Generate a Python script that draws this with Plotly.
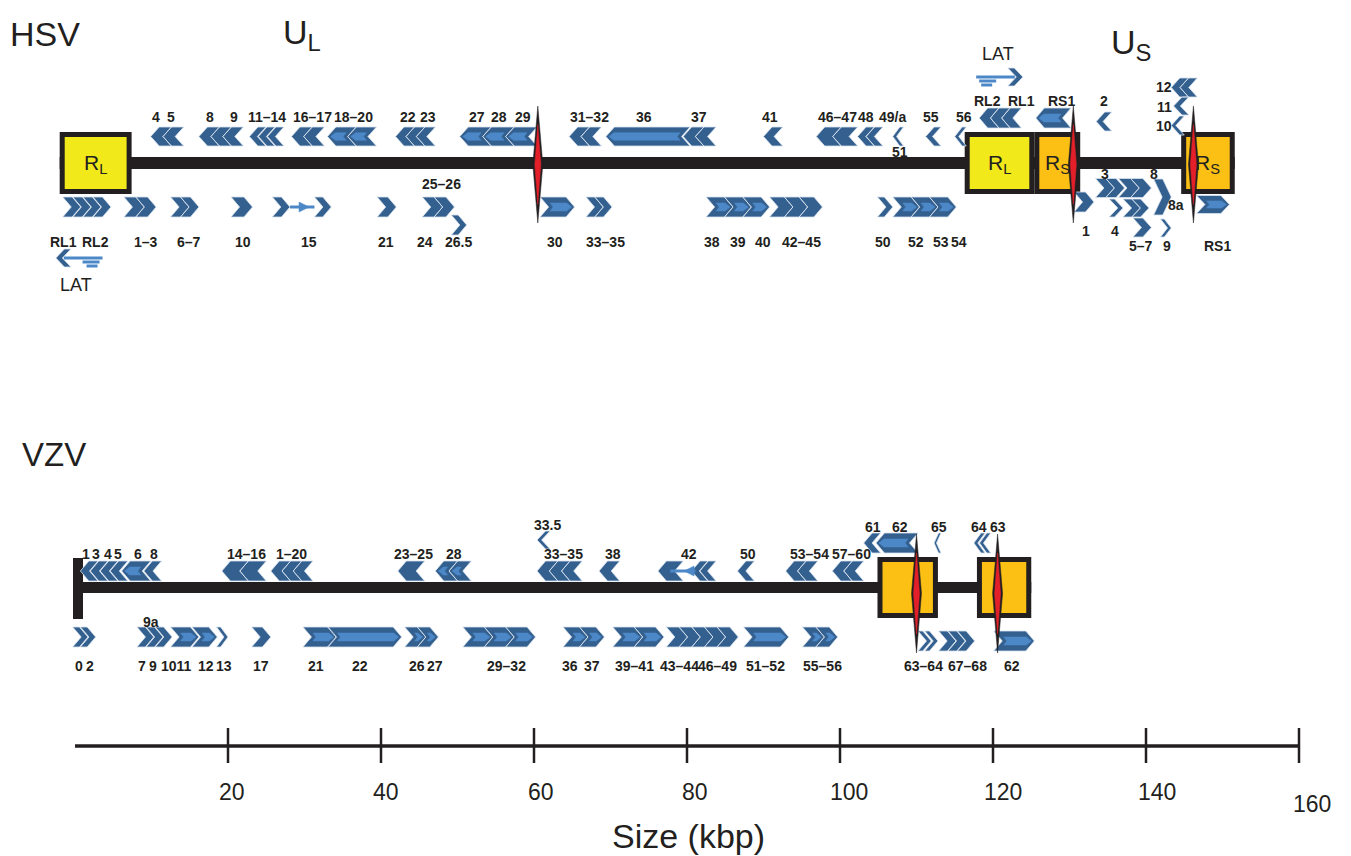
import plotly.graph_objects as go

# ============================ DATA ============================
tick_values = [20, 40, 60, 80, 100, 120, 140, 160]
tick_labels = ["20", "40", "60", "80", "100", "120", "140", "160"]
axis_title = "Size (kbp)"

# ---------------- HSV ----------------
hsv_name = "HSV"
hsv_extent = [-2.0, 151.6]
hsv_region_label = ["R<sub>L</sub>", "R<sub>L</sub>", "R<sub>S</sub>", "R<sub>S</sub>"]
hsv_region_start = [-2.0, 116.3, 125.4, 144.6]
hsv_region_end = [7.4, 125.4, 131.4, 151.6]
hsv_region_kind = ["RL", "RL", "RS", "RS"]
hsv_unique_label = ["U<sub>L</sub>", "U<sub>S</sub>"]
hsv_unique_mid = [29.7, 138.1]
hsv_junctions = [60.5, 130.5, 146.2]

hsv_gene_start = [9.9, 16.2, 22.8, 28.3, 33.0, 41.9, 50.3, 64.6, 69.4, 79.5,
                  90.0, 96.9, 102.3, 106.9, 111.2, 115.0, 118.2, 125.6, 133.5, 143.3,
                  143.6, 143.3,
                  -1.6, 6.4, 12.5, 20.4, 25.8, 31.3, 39.5, 45.4,
                  49.2, 60.8, 66.8, 82.5, 90.8, 104.9, 106.9, 130.6, 133.4, 136.4,
                  135.2, 137.0, 138.3, 141.0, 141.9, 146.6]
hsv_gene_end = [14.2, 22.0, 27.3, 32.6, 39.4, 47.1, 60.4, 68.8, 80.4, 83.8,
                92.5, 102.3, 105.6, 108.3, 113.2, 116.5, 123.7, 130.2, 135.5, 145.0,
                145.6, 146.7,
                4.7, 10.6, 16.2, 23.2, 28.1, 33.5, 42.0, 49.6,
                51.2, 65.3, 70.2, 90.8, 97.7, 106.9, 115.2, 133.2, 137.2, 140.7,
                137.0, 140.4, 140.7, 143.3, 143.3, 150.9]
hsv_gene_strand = [-1] * 22 + [1] * 24
hsv_gene_track = (["top"] * 16 + ["ir", "ir", "us2", "us10", "us11", "us12"]
                  + ["bot"] * 8 + ["bot2"] + ["bot"] * 6
                  + ["us1", "us3", "us3", "us4", "us4", "us57", "us8", "us9", "usrs"])
hsv_gene_count = [2, 3, 3, 2, 2, 3, 3, 2, 1, 2, 1, 2, 2, 1, 1, 1, 3, 1, 1, 1, 1, 2,
                  4, 2, 2, 1, 1, 1, 1, 2, 1, 1, 2, 3, 3, 1, 3, 1, 2, 2, 1, 2, 1, 1, 1, 1]
hsv_gene_inner = [0, 1, 0, 0, 1, 0, 1, 0, 1, 1, 0, 0, 0, 0, 0, 0, 0, 1, 0, 0, 0, 1,
                  0, 0, 0, 0, 0, 0, 0, 1, 0, 1, 0, 1, 0, 0, 1, 0, 1, 1, 0, 1, 0, 0, 0, 1]

hsv_link_tail = [28.1, 3.6, 117.8]
hsv_link_tip = [31.3, -2.5, 123.9]
hsv_link_track = ["bot", "latl", "latr"]
hsv_link_kind = ["arrow", "lat", "lat"]

hsv_label_text = ["4", "5", "8", "9", "11–14", "16–17", "18–20", "22", "23", "27", "28", "29",
                  "31–32", "36", "37", "41", "46–47", "48", "49/a", "55", "56", "51",
                  "RL2", "RL1", "RS1", "2", "12", "11", "10",
                  "RL1", "RL2", "1–3", "6–7", "10", "15", "21", "24", "26.5", "25–26", "30",
                  "33–35", "38", "39", "40", "42–45", "50", "52", "53", "54",
                  "1", "3", "4", "8", "8a", "5–7", "9", "RS1", "LAT", "LAT"]
hsv_label_x = [10.6, 12.5, 17.6, 20.8, 25.1, 31.0, 36.4, 43.5, 46.2, 52.6, 55.4, 58.5,
               67.3, 74.4, 81.6, 90.9, 99.7, 103.4, 106.9, 111.9, 116.2, 107.9,
               119.3, 123.7, 128.9, 134.5, 142.4, 142.4, 142.4,
               -1.5, 2.7, 9.3, 14.9, 22.0, 30.6, 40.6, 45.7, 50.1, 47.9, 62.7,
               69.3, 83.3, 86.7, 89.9, 95.0, 105.6, 109.9, 113.2, 115.6,
               132.1, 134.7, 136.0, 141.0, 143.9, 139.3, 142.7, 149.4, 0.1, 120.6]
hsv_label_level = ["t"] * 21 + ["mid"] + ["ir"] * 4 + ["s12", "s11", "s10"] \
    + ["b"] * 8 + ["b", "b2", "b"] + ["b"] * 9 \
    + ["s1", "s3", "s1", "s3", "s8a", "s57", "s57", "s57", "latl", "latr"]

# ---------------- VZV ----------------
vzv_name = "VZV"
vzv_extent = [0.0, 125.0]
vzv_region_start = [104.9, 117.9]
vzv_region_end = [112.8, 125.0]
vzv_region_kind = ["RS", "RS"]
vzv_junctions = [110.0, 120.6]

vzv_gene_start = [0.7, 6.1, 9.0, 19.2, 25.6, 42.2, 47.1, 60.4, 60.4, 68.5, 76.2, 80.6, 86.6,
                  92.9, 99.0, 103.1, 104.7, 112.3, 117.5,
                  -0.3, 8.1, 12.5, 15.3, 18.5, 23.1, 29.8, 33.0, 43.1, 50.7, 63.8, 70.3,
                  77.3, 87.4, 95.1, 110.2, 112.9, 120.1]
vzv_gene_end = [6.9, 9.9, 11.3, 25.0, 31.1, 45.7, 51.8, 62.1, 66.3, 71.2, 79.5, 83.8, 88.8,
                97.1, 103.1, 105.3, 110.2, 113.2, 119.7,
                2.7, 12.7, 16.2, 18.6, 20.0, 25.6, 34.2, 42.7, 47.5, 60.2, 69.2, 77.0,
                86.7, 93.3, 99.7, 112.8, 117.6, 125.4]
vzv_gene_strand = [-1] * 19 + [1] * 18
vzv_gene_track = ["top"] * 7 + ["t335"] + ["top"] * 7 + ["ir"] * 4 + ["bot"] * 15 + ["irb"] * 3
vzv_gene_count = [4, 1, 1, 2, 3, 1, 2, 1, 3, 1, 1, 2, 1, 2, 2, 1, 1, 1, 2,
                  2, 3, 1, 1, 1, 1, 1, 1, 2, 3, 2, 2, 5, 1, 2, 2, 3, 1]
vzv_gene_inner = [0, 1, 0, 0, 1, 0, 1, 0, 0, 0, 0, 0, 0, 0, 0, 0, 1, 0, 0,
                  0, 0, 1, 1, 0, 0, 1, 1, 1, 1, 1, 1, 0, 1, 1, 0, 0, 1]

vzv_link_tail = [81.1]
vzv_link_tip = [77.8]
vzv_link_track = ["top"]
vzv_link_kind = ["arrow"]

vzv_label_text = ["1", "3", "4", "5", "6", "8", "14–16", "1–20", "23–25", "28", "33–35", "38",
                  "42", "50", "53–54", "57–60", "33.5", "61", "62", "65", "64", "63",
                  "0", "2", "7", "9", "1011", "12", "13", "17", "21", "22", "26", "27",
                  "29–32", "36", "37", "39–41", "43–44", "46–49", "51–52", "55–56",
                  "63–64", "67–68", "62", "9a"]
vzv_label_x = [1.4, 2.8, 4.3, 5.6, 8.2, 10.3, 22.4, 28.3, 44.2, 49.6, 63.9, 70.3,
               80.3, 88.0, 96.0, 101.5, 61.7, 104.3, 107.8, 112.9, 118.2, 120.6,
               0.5, 1.9, 8.7, 10.2, 13.3, 17.1, 19.5, 24.3, 31.5, 37.3, 44.7, 47.1,
               56.4, 64.7, 67.6, 73.2, 79.0, 84.0, 90.3, 97.7,
               110.9, 116.7, 122.5, 9.9]
vzv_label_level = ["t"] * 16 + ["t335"] + ["ir"] * 5 + ["b"] * 23 + ["b9a"]

# ============================ STYLE ============================
W, H = 1351, 856
PX_PER_KBP = 7.65
X_ORIGIN_PX = 75.0
TIP = 8.5 / PX_PER_KBP
DARK = "#34608F"
LIGHT = "#4C88C8"
EDGE = "#D5E1EE"
BLACK = "#231F20"
YELLOW = "#F2E91A"
ORANGE = "#FBC013"
RED = "#E3202A"
LABEL_FONT = "Liberation Sans, Arial, sans-serif"
LABEL_SIZE = 14

HSV_TRACKS = {"top": (136.5, 19), "ir": (118, 20), "us2": (121.5, 19), "us10": (125.5, 19),
              "us11": (106, 18), "us12": (87.5, 19), "bot": (207, 20), "bot2": (225, 20),
              "us1": (202, 20), "us3": (188, 19), "us4": (208, 18), "us57": (227.5, 19),
              "us8": (197, 36), "us9": (228, 18), "usrs": (204.5, 18),
              "latl": (258, 18), "latr": (77, 18)}
HSV_LABEL_Y = {"t": 117, "mid": 152, "ir": 101, "s12": 87, "s11": 107, "s10": 126, "b": 242,
               "b2": 184, "s1": 231, "s3": 174, "s8a": 205, "s57": 246, "latl": 285, "latr": 54}
HSV_GEOM = {"axis_y": 163, "axis_w": 12, "box": (132, 194), "diamond": (106, 223)}

VZV_TRACKS = {"top": (571, 20), "t335": (540, 18), "ir": (543, 20), "bot": (637, 20),
              "irb": (641, 20)}
VZV_LABEL_Y = {"t": 554, "t335": 525, "ir": 527, "b": 666, "b9a": 622}
VZV_GEOM = {"axis_y": 587.5, "axis_w": 11, "box": (557, 618), "diamond": (534, 653),
            "bar": (558, 619)}

SCALE_Y = 746
TICK_Y = (728, 763)
TICKLABEL_Y = 792


def kx(px):
    return px / PX_PER_KBP


def px2k(px):
    return (px - X_ORIGIN_PX) / PX_PER_KBP


shapes = []
annotations = []
dark_x, dark_y = [], []
light_x, light_y = [], []
line_x, line_y = [], []


def add_poly(xs_store, ys_store, xs, ys):
    xs_store.extend(xs + [None])
    ys_store.extend(ys + [None])


def chevron_poly(a, b, strand, yc, h):
    top, bot = yc - h / 2.0, yc + h / 2.0
    t = min(TIP, 0.65 * (b - a))
    if strand > 0:
        xs = [a, b - t, b, b - t, a, a + t, a]
    else:
        xs = [b, a + t, a, a + t, b, b - t, b]
    ys = [top, top, yc, bot, bot, yc, top]
    return xs, ys, t


def inner_poly(a, b, strand, yc, h, t):
    hh = h * 0.2
    if strand > 0:
        ia, ib = a + t + kx(1.5), b - kx(3)
        if ib - ia < kx(8):
            return None
        xs = [ia, ib - kx(5), ib, ib - kx(5), ia, ia + kx(3), ia]
    else:
        ia, ib = a + kx(3), b - t - kx(1.5)
        if ib - ia < kx(8):
            return None
        xs = [ib, ia + kx(5), ia, ia + kx(5), ib, ib - kx(3), ib]
    ys = [yc - hh, yc - hh, yc, yc + hh, yc + hh, yc, yc - hh]
    return xs, ys


def draw_genes(starts, ends, strands, tracks, counts, inners, track_map):
    for a, b, s, tr, n, inn in zip(starts, ends, strands, tracks, counts, inners):
        yc, h = track_map[tr]
        total = b - a
        t = min(TIP, 0.65 * total / n)
        L = (total + (n - 1) * t) / n
        for i in range(n):
            ca = a + i * (L - t)
            cb = ca + L
            xs, ys, tt = chevron_poly(ca, cb, s, yc, h)
            add_poly(dark_x, dark_y, xs, ys)
            if inn:
                ip = inner_poly(ca, cb, s, yc, h, tt)
                if ip:
                    add_poly(light_x, light_y, ip[0], ip[1])


def draw_links(tails, tips, tracks, kinds, track_map):
    for tail, tip, tr, kind in zip(tails, tips, tracks, kinds):
        yc, h = track_map[tr]
        d = 1 if tip > tail else -1
        if kind == "lat":
            head_len = kx(15)
            if d > 0:
                xs, ys, _ = chevron_poly(tip - head_len, tip, 1, yc, h)
            else:
                xs, ys, _ = chevron_poly(tip, tip + head_len, -1, yc, h)
            add_poly(dark_x, dark_y, xs, ys)
            line_x.extend([tail, tip - d * kx(8), None])
            line_y.extend([yc, yc, None])
            line_x.extend([tail + d * kx(3), tail + d * kx(20), None])
            line_y.extend([yc + 4, yc + 4, None])
            line_x.extend([tail + d * kx(5), tail + d * kx(16), None])
            line_y.extend([yc + 8, yc + 8, None])
        else:
            line_x.extend([tail, tip, None])
            line_y.extend([yc, yc, None])
            frac = 0.78 if d > 0 else 0.45
            hx = tail + (tip - tail) * frac
            add_poly(light_x, light_y,
                     [hx, hx - d * kx(10), hx - d * kx(10), hx],
                     [yc, yc - 5, yc + 5, yc])


# ---------- backbones & boxes ----------
def draw_genome(extent, rstarts, rends, rkinds, geom):
    y0 = geom["axis_y"] - geom["axis_w"] / 2
    y1 = geom["axis_y"] + geom["axis_w"] / 2
    shapes.append(dict(type="rect", xref="x", yref="y", x0=extent[0], x1=extent[1],
                       y0=y0, y1=y1, fillcolor=BLACK, line=dict(width=0), layer="below"))
    by0, by1 = geom["box"]
    for a, b, k in zip(rstarts, rends, rkinds):
        shapes.append(dict(type="rect", xref="x", yref="y",
                           x0=a + kx(2.5), x1=b - kx(2.5), y0=by0 + 2.5, y1=by1 - 2.5,
                           fillcolor=YELLOW if k == "RL" else ORANGE,
                           line=dict(color=BLACK, width=5), layer="below"))


draw_genome(hsv_extent, hsv_region_start, hsv_region_end, hsv_region_kind, HSV_GEOM)
draw_genome(vzv_extent, vzv_region_start, vzv_region_end, vzv_region_kind, VZV_GEOM)
# VZV terminal bar
shapes.append(dict(type="rect", xref="x", yref="y", x0=vzv_extent[0] - kx(2),
                   x1=vzv_extent[0] + kx(8), y0=VZV_GEOM["bar"][0], y1=VZV_GEOM["bar"][1],
                   fillcolor=BLACK, line=dict(width=0), layer="below"))

for a, b, lab in zip(hsv_region_start, hsv_region_end, hsv_region_label):
    annotations.append(dict(x=(a + b) / 2, y=HSV_GEOM["axis_y"] + 1, text=lab, showarrow=False,
                            xanchor="center", yanchor="middle",
                            font=dict(family=LABEL_FONT, size=21, color=BLACK)))

# ---------- genes ----------
draw_genes(hsv_gene_start, hsv_gene_end, hsv_gene_strand, hsv_gene_track, hsv_gene_count,
           hsv_gene_inner, HSV_TRACKS)
draw_genes(vzv_gene_start, vzv_gene_end, vzv_gene_strand, vzv_gene_track, vzv_gene_count,
           vzv_gene_inner, VZV_TRACKS)
draw_links(hsv_link_tail, hsv_link_tip, hsv_link_track, hsv_link_kind, HSV_TRACKS)
draw_links(vzv_link_tail, vzv_link_tip, vzv_link_track, vzv_link_kind, VZV_TRACKS)

fig = go.Figure()
fig.add_trace(go.Scatter(x=dark_x, y=dark_y, mode="lines", fill="toself", fillcolor=DARK,
                         line=dict(color=EDGE, width=0.8), hoverinfo="skip"))
fig.add_trace(go.Scatter(x=line_x, y=line_y, mode="lines",
                         line=dict(color=LIGHT, width=3), hoverinfo="skip"))
fig.add_trace(go.Scatter(x=light_x, y=light_y, mode="lines", fill="toself", fillcolor=LIGHT,
                         line=dict(color=LIGHT, width=0.5), hoverinfo="skip"))

# ---------- junction diamonds ----------
dbx, dby, drx, dry = [], [], [], []
for junctions, geom in ((hsv_junctions, HSV_GEOM), (vzv_junctions, VZV_GEOM)):
    y0, y1 = geom["diamond"]
    ym = (y0 + y1) / 2
    for x in junctions:
        add_poly(dbx, dby, [x, x + kx(5), x, x - kx(5), x], [y0, ym, y1, ym, y0])
        r0, r1 = y0 + (y1 - y0) * 0.16, y1 - (y1 - y0) * 0.16
        add_poly(drx, dry, [x, x + kx(3), x, x - kx(3), x], [r0, ym, r1, ym, r0])
fig.add_trace(go.Scatter(x=dbx, y=dby, mode="lines", fill="toself", fillcolor=BLACK,
                         line=dict(color=BLACK, width=0.5), hoverinfo="skip"))
fig.add_trace(go.Scatter(x=drx, y=dry, mode="lines", fill="toself", fillcolor=RED,
                         line=dict(color=RED, width=0.5), hoverinfo="skip"))

# ---------- gene labels ----------
for texts, xs, levels, ymap in ((hsv_label_text, hsv_label_x, hsv_label_level, HSV_LABEL_Y),
                                (vzv_label_text, vzv_label_x, vzv_label_level, VZV_LABEL_Y)):
    for t, x, lv in zip(texts, xs, levels):
        if t == "LAT":
            f = dict(family=LABEL_FONT, size=18, color=BLACK)
        else:
            f = dict(family=LABEL_FONT, size=LABEL_SIZE, color=BLACK, weight="bold")
        annotations.append(dict(x=x, y=ymap[lv], text=t, showarrow=False, xanchor="center",
                                yanchor="middle", font=f))

# ---------- titles ----------
annotations.append(dict(x=px2k(8), y=34, text=hsv_name, showarrow=False, xanchor="left",
                        yanchor="middle", font=dict(family=LABEL_FONT, size=34, color=BLACK)))
annotations.append(dict(x=px2k(20), y=454, text=vzv_name, showarrow=False, xanchor="left",
                        yanchor="middle", font=dict(family=LABEL_FONT, size=33, color=BLACK)))
for lab, x in zip(hsv_unique_label, hsv_unique_mid):
    annotations.append(dict(x=x, y=34 if x < 100 else 44, text=lab, showarrow=False,
                            xanchor="center", yanchor="middle",
                            font=dict(family=LABEL_FONT, size=34, color=BLACK)))

# ---------- scale bar ----------
shapes.append(dict(type="line", xref="x", yref="y", x0=0, x1=tick_values[-1], y0=SCALE_Y,
                   y1=SCALE_Y, line=dict(color=BLACK, width=3.5)))
for v, lab in zip(tick_values, tick_labels):
    shapes.append(dict(type="line", xref="x", yref="y", x0=v, x1=v, y0=TICK_Y[0], y1=TICK_Y[1],
                       line=dict(color=BLACK, width=2.5)))
    last = v == tick_values[-1]
    annotations.append(dict(x=v, y=TICKLABEL_Y + (12 if last else 0), text=lab, showarrow=False,
                            xanchor="center", yanchor="middle", xshift=3 + v * 0.06,
                            font=dict(family=LABEL_FONT, size=23, color=BLACK)))
annotations.append(dict(x=px2k(688), y=836, text=axis_title, showarrow=False, xanchor="center",
                        yanchor="middle", font=dict(family=LABEL_FONT, size=34, color=BLACK)))

fig.update_layout(
    width=W, height=H, margin=dict(l=0, r=0, t=0, b=0),
    paper_bgcolor="white", plot_bgcolor="white", showlegend=False,
    xaxis=dict(range=[px2k(0), px2k(W)], visible=False, fixedrange=True),
    yaxis=dict(range=[H, 0], visible=False, fixedrange=True),
    shapes=shapes, annotations=annotations,
)
fig.write_html("out.html", config={"displayModeBar": False},
               post_script="document.body.style.margin='0px';document.body.style.overflow='hidden';")
